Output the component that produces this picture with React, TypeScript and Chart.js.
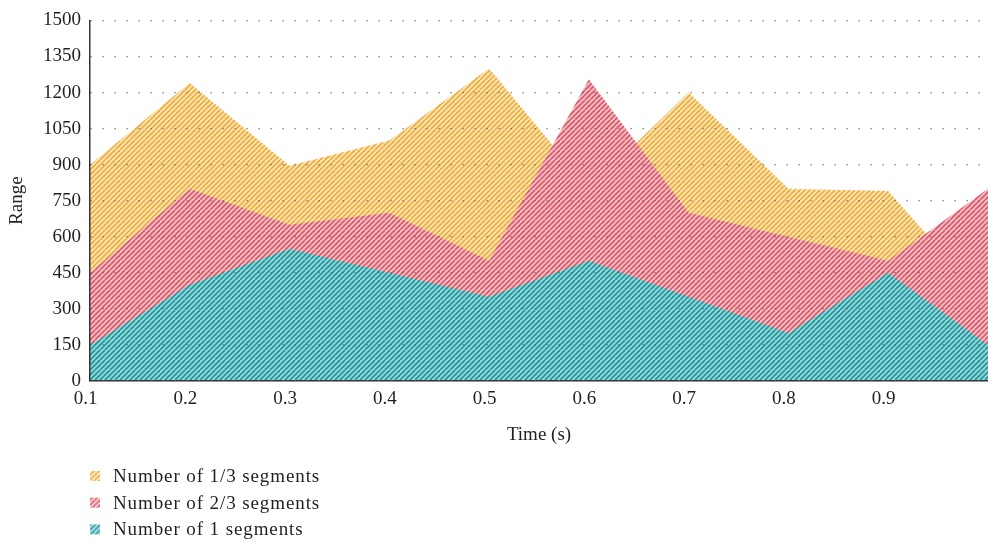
import React, { useEffect, useRef } from 'react';
import { Chart, registerables } from 'chart.js';

Chart.register(...registerables);

const timeLabels = ['0.1', '0.2', '0.3', '0.4', '0.5', '0.6', '0.7', '0.8', '0.9', '1.0'];
const oneThirdSegments = [900, 1240, 895, 1000, 1300, 800, 1200, 800, 790, 320];
const twoThirdSegments = [450, 800, 650, 700, 500, 1255, 700, 600, 500, 800];
const oneSegments = [150, 400, 550, 450, 350, 500, 350, 200, 450, 150];
const seriesNames = ['Number of 1/3 segments', 'Number of 2/3 segments', 'Number of 1 segments'];
const yMin = 0;
const yMax = 1500;
const yStep = 150;

const FONT = '"Liberation Serif", "Times New Roman", serif';
const TEXT = '#231f20';
const FS = 19;

function makePattern(bg: string, fg: string): CanvasPattern {
  const c = document.createElement('canvas');
  const s = 10;
  c.width = s;
  c.height = s;
  const ctx = c.getContext('2d')!;
  ctx.fillStyle = bg;
  ctx.fillRect(0, 0, s, s);
  ctx.strokeStyle = fg;
  ctx.lineWidth = 1.8;
  for (let x0 = -s; x0 <= s; x0 += 5) {
    ctx.beginPath();
    ctx.moveTo(x0, s);
    ctx.lineTo(x0 + s, 0);
    ctx.stroke();
  }
  return ctx.createPattern(c, 'repeat')!;
}

export default function App() {
  const ref = useRef<HTMLCanvasElement>(null);

  useEffect(() => {
    const patterns = [
      makePattern('rgb(254,232,182)', 'rgb(238,172,66)'),
      makePattern('rgb(250,194,199)', 'rgb(216,92,108)'),
      makePattern('rgb(148,218,222)', 'rgb(38,150,155)'),
    ];

    const legendPlugin = {
      id: 'verticalLegend',
      afterDraw(chart: any) {
        const ctx = chart.ctx as any;
        ctx.save();
        seriesNames.forEach((name, i) => {
          const y = 476 + i * 26.7;
          ctx.fillStyle = patterns[i];
          ctx.globalAlpha = 0.85;
          ctx.fillRect(90, y - 5, 10, 10);
          ctx.globalAlpha = 1;
          ctx.fillStyle = TEXT;
          ctx.font = `${FS}px ${FONT}`;
          try {
            ctx.letterSpacing = '0.9px';
          } catch (e) {
            /* ignore */
          }
          ctx.textBaseline = 'middle';
          ctx.textAlign = 'left';
          ctx.fillText(name, 113, y + 1);
        });
        ctx.restore();
      },
    };

    const chart = new Chart(ref.current!, {
      type: 'line',
      data: {
        labels: timeLabels,
        datasets: [
          {
            label: seriesNames[0],
            data: oneThirdSegments,
            backgroundColor: patterns[0],
            fill: 'origin',
            borderWidth: 0,
            pointRadius: 0,
            tension: 0,
            order: 3,
          },
          {
            label: seriesNames[1],
            data: twoThirdSegments,
            backgroundColor: patterns[1],
            fill: 'origin',
            borderWidth: 0,
            pointRadius: 0,
            tension: 0,
            order: 2,
          },
          {
            label: seriesNames[2],
            data: oneSegments,
            backgroundColor: patterns[2],
            fill: 'origin',
            borderWidth: 0,
            pointRadius: 0,
            tension: 0,
            order: 1,
          },
        ],
      },
      options: {
        animation: false,
        responsive: true,
        maintainAspectRatio: false,
        layout: { padding: { top: 19, left: 0, right: 0, bottom: 0 } },
        plugins: {
          legend: { display: false },
          tooltip: { enabled: false },
        },
        scales: {
          x: {
            type: 'category',
            offset: false,
            grid: { display: false, drawTicks: false },
            border: { display: true, color: '#333', width: 1.5, z: 1 },
            ticks: {
              color: TEXT,
              font: { family: FONT, size: FS },
              padding: 7,
              labelOffset: -4.5,
              maxRotation: 0,
              autoSkip: false,
              callback: (_v: any, i: number) => (i === timeLabels.length - 1 ? '' : timeLabels[i]),
            },
            title: {
              display: true,
              text: 'Time (s)',
              color: TEXT,
              font: { family: FONT, size: FS },
              padding: { top: 0, bottom: 96 },
            },
            afterFit: (s: any) => {
              s.height = 161;
              s.paddingRight = 0;
            },
          },
          y: {
            min: yMin,
            max: yMax,
            ticks: {
              stepSize: yStep,
              color: TEXT,
              font: { family: FONT, size: FS },
              padding: 9,
              callback: (v: any) => String(v),
            },
            grid: { drawTicks: false, color: '#666', lineWidth: 1.2, z: 1 },
            border: { display: true, color: '#333', width: 1.5, dash: [1.2, 10.8], z: 1 },
            title: {
              display: true,
              text: 'Range',
              color: TEXT,
              font: { family: FONT, size: FS },
              padding: { top: 6, bottom: 0 },
            },
            afterFit: (s: any) => {
              s.width = 90;
            },
          },
        },
      } as any,
      plugins: [legendPlugin],
    });

    return () => chart.destroy();
  }, []);

  return (
    <div style={{ position: 'fixed', left: 0, top: 0, width: 988, height: 542, background: '#fff' }}>
      <canvas ref={ref} />
    </div>
  );
}
